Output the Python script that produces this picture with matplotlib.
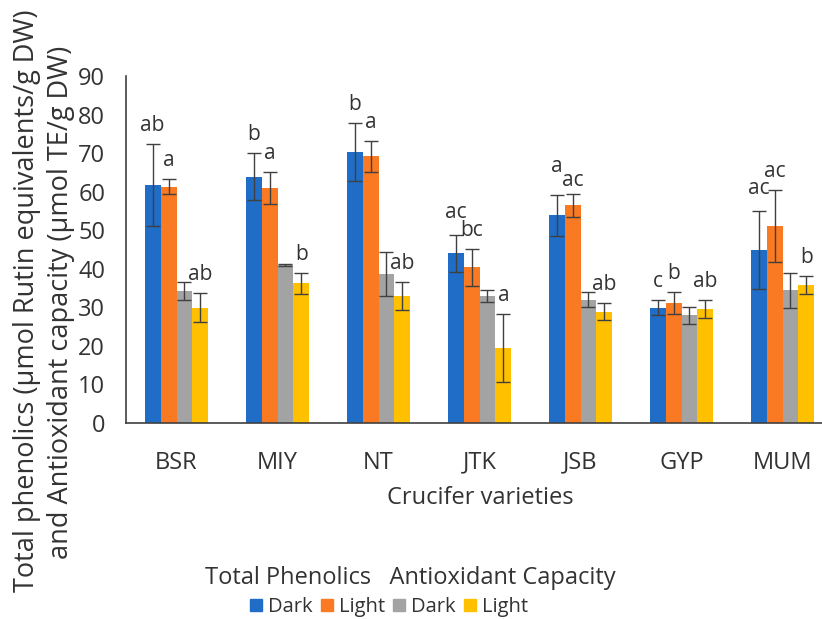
import matplotlib
matplotlib.use('Agg')
import matplotlib.pyplot as plt
from matplotlib.patches import Patch
import numpy as np

plt.rcParams['font.family'] = ['Open Sans', 'DejaVu Sans']

varieties = ['BSR', 'MIY', 'NT', 'JTK', 'JSB', 'GYP', 'MUM']
series_names = ['Dark', 'Light', 'Dark', 'Light']

phen_dark = [61.8, 63.9, 70.2, 44.0, 53.9, 29.9, 44.9]
phen_light = [61.3, 60.9, 69.2, 40.4, 56.5, 31.2, 51.1]
anti_dark = [34.2, 40.9, 38.6, 32.9, 32.0, 27.9, 34.4]
anti_light = [29.9, 36.2, 32.9, 19.4, 28.8, 29.6, 35.7]

phen_dark_err = [10.6, 6.0, 7.5, 4.8, 5.3, 2.0, 10.1]
phen_light_err = [2.0, 4.1, 4.0, 4.8, 3.0, 2.8, 9.3]
anti_dark_err = [2.3, 0.3, 5.7, 1.5, 2.0, 2.2, 4.6]
anti_light_err = [3.7, 2.8, 3.6, 8.8, 2.2, 2.3, 2.3]

phen_dark_lab = ['ab', 'b', 'b', 'ac', 'a', 'c', 'ac']
phen_light_lab = ['a', 'a', 'a', 'bc', 'ac', 'b', 'ac']
anti_dark_lab = ['', '', '', '', '', '', '']
anti_light_lab = ['ab', 'b', 'ab', 'a', 'ab', 'ab', 'b']

colors = ['#1f6dc6', '#f97a22', '#a3a3a3', '#ffc000']
txt = '#333333'

values = [phen_dark, phen_light, anti_dark, anti_light]
errors = [phen_dark_err, phen_light_err, anti_dark_err, anti_light_err]
labels = [phen_dark_lab, phen_light_lab, anti_dark_lab, anti_light_lab]
# small nudges so the JSB letters don't collide (as in the original)
nudge = {(0, 4): 2.5, (1, 4): -1.3, (0, 3): 1.0, (0, 6): 1.0}

fig = plt.figure(figsize=(8.22, 6.19), dpi=100)
ax = fig.add_axes([126/822, 1-423/619, (833-126)/822, (423-76)/619])

pos = np.arange(len(varieties))
w = 0.158
for i in range(4):
    x = pos + (i - 1.5)*w
    ax.bar(x, values[i], w, color=colors[i], yerr=errors[i], capsize=5,
           error_kw=dict(ecolor='#404040', elinewidth=1, capthick=1))
    for j, (xi, v, e, lab) in enumerate(zip(x, values[i], errors[i], labels[i])):
        if lab:
            ax.text(xi, v + e + 4.8 + nudge.get((i, j), 0), lab, ha='center', va='center',
                    fontsize=15, color=txt)

ax.set_xlim(-0.5, len(varieties) - 0.5)
ax.set_ylim(0, 90)
ax.set_yticks(np.arange(0, 91, 10))
ax.set_xticks(pos)
ax.set_xticklabels(varieties)
ax.tick_params(length=0, labelsize=17, colors=txt)
ax.tick_params(axis='y', pad=15)
ax.tick_params(axis='x', pad=20)
for s in ['top', 'right']:
    ax.spines[s].set_visible(False)
for s in ['left', 'bottom']:
    ax.spines[s].set_color('#404040')
    ax.spines[s].set_linewidth(1.2)

fig.text(480/822, 1-498/619, 'Crucifer varieties', ha='center', va='center', fontsize=17, color=txt)
fig.text(27/822, 1-301/619, 'Total phenolics (\u00b5mol Rutin equivalents/g DW)', rotation=90,
         ha='center', va='center', fontsize=19.5, color=txt)
fig.text(61/822, 1-302/619, 'and Antioxidant capacity (\u00b5mol TE/g DW)', rotation=90,
         ha='center', va='center', fontsize=19.5, color=txt)

fig.text(410/822, 1-578/619, 'Total Phenolics   Antioxidant Capacity', ha='center', va='center',
         fontsize=17, color=txt)
handles = [Patch(color=c) for c in colors]
fig.legend(handles, series_names, loc='center', bbox_to_anchor=(389/822, 1-607/619), ncol=4,
           frameon=False, fontsize=14.5, handlelength=0.6, handleheight=0.6, handletextpad=0.3,
           columnspacing=0.4, labelcolor=txt)

fig.savefig('out.png', dpi=100)
